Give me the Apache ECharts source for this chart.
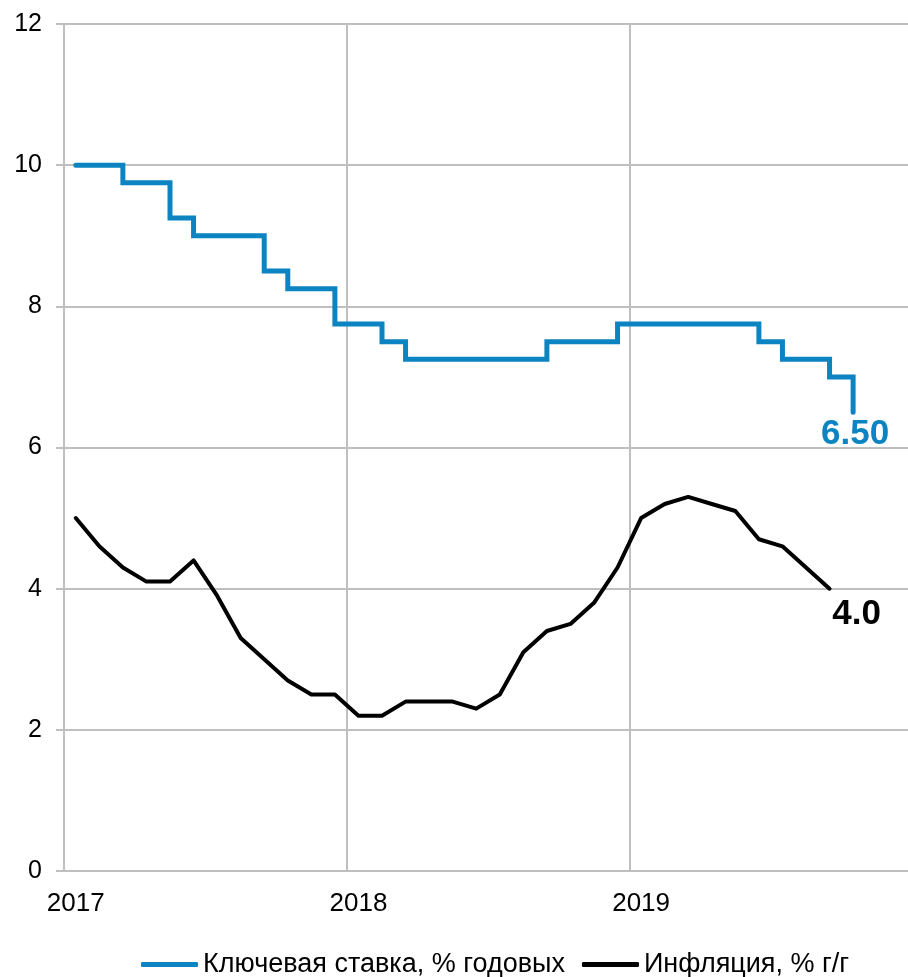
<!DOCTYPE html>
<html>
<head>
<meta charset="utf-8">
<script src="https://cdn.jsdelivr.net/npm/echarts@6/dist/echarts.min.js"></script>
<style>
html,body{margin:0;padding:0;background:#fff;}
#chart{width:908px;height:977px;}
</style>
</head>
<body>
<div id="chart"></div>
<script>
const months = [
  '2017-01','2017-02','2017-03','2017-04','2017-05','2017-06','2017-07','2017-08','2017-09','2017-10','2017-11','2017-12',
  '2018-01','2018-02','2018-03','2018-04','2018-05','2018-06','2018-07','2018-08','2018-09','2018-10','2018-11','2018-12',
  '2019-01','2019-02','2019-03','2019-04','2019-05','2019-06','2019-07','2019-08','2019-09','2019-10','2019-11','2019-12'
];
const yearLabels = {'2017-01':'2017','2018-01':'2018','2019-01':'2019'};
const keyRate = [10,10,9.75,9.75,9.25,9,9,9,8.5,8.25,8.25,7.75,
  7.75,7.5,7.25,7.25,7.25,7.25,7.25,7.25,7.5,7.5,7.5,7.75,
  7.75,7.75,7.75,7.75,7.75,7.5,7.25,7.25,7,6.5];
const inflation = [5.0,4.6,4.3,4.1,4.1,4.4,3.9,3.3,3.0,2.7,2.5,2.5,
  2.2,2.2,2.4,2.4,2.4,2.3,2.5,3.1,3.4,3.5,3.8,4.3,
  5.0,5.2,5.3,5.2,5.1,4.7,4.6,4.3,4.0];
const seriesNames = ['Ключевая ставка, % годовых','Инфляция, % г/г'];
const yTicks = {min:0,max:12,interval:2};

const BLUE = '#0b84c1';
const GRAY = '#bfbfbf';
const FONT = 'Liberation Sans, Arial, sans-serif';

const chart = echarts.init(document.getElementById('chart'));
chart.setOption({
  animation:false,
  backgroundColor:'#fff',
  grid:{left:64,width:848,top:24,bottom:106,containLabel:false,outerBoundsMode:'none'},
  legend:{
    left:141, top:951, padding:0,
    itemWidth:57, itemHeight:5, itemGap:17,
    icon:'roundRect',
    textStyle:{fontSize:27,color:'#000',fontFamily:FONT},
    data:seriesNames
  },
  xAxis:{
    type:'category',
    data:months,
    boundaryGap:true,
    axisLine:{show:true,lineStyle:{color:GRAY,width:2}},
    axisTick:{show:false},
    axisLabel:{interval:0,margin:20,fontSize:26,color:'#000',fontFamily:FONT,
      formatter:v=>yearLabels[v]||''},
    splitLine:{show:true,interval:(idx)=>idx%12===0,lineStyle:{color:GRAY,width:2}}
  },
  yAxis:{
    type:'value',
    min:yTicks.min,max:yTicks.max,interval:yTicks.interval,
    axisLine:{show:true,lineStyle:{color:GRAY,width:2}},
    axisTick:{show:true,length:8,lineStyle:{color:GRAY,width:2}},
    axisLabel:{margin:22,fontSize:25,color:'#000',fontFamily:FONT},
    splitLine:{show:true,lineStyle:{color:GRAY,width:2}}
  },
  series:[
    {
      name:seriesNames[0],type:'line',step:'end',
      data:keyRate,
      showSymbol:false,symbol:'none',
      color:BLUE,
      lineStyle:{color:BLUE,width:5,cap:'round',join:'miter'},
      endLabel:{show:true,formatter:p=>Number(p.value).toFixed(2),
        align:'center',verticalAlign:'top',distance:0,padding:[5,0,0,4],
        color:BLUE,fontSize:35,fontWeight:'bold',fontFamily:FONT},
      z:3
    },
    {
      name:seriesNames[1],type:'line',
      data:inflation,
      showSymbol:false,symbol:'none',
      color:'#000',
      lineStyle:{color:'#000',width:4,cap:'round',join:'round'},
      endLabel:{show:true,formatter:p=>Number(p.value).toFixed(1),
        align:'center',verticalAlign:'top',distance:0,padding:[8,0,0,54],
        color:'#000',fontSize:35,fontWeight:'bold',fontFamily:FONT},
      z:2
    }
  ]
});
</script>
</body>
</html>
